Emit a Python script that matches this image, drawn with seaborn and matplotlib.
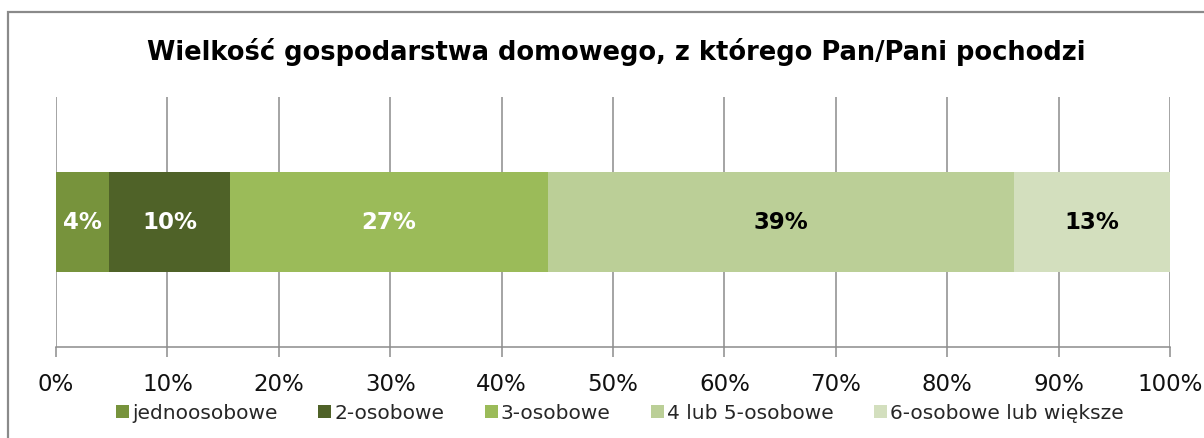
import matplotlib
matplotlib.use("Agg")
import matplotlib.pyplot as plt
from matplotlib.patches import Rectangle
import seaborn as sns
import pandas as pd
import numpy as np

# ---- data ----
categories = ["jednoosobowe", "2-osobowe", "3-osobowe", "4 lub 5-osobowe", "6-osobowe lub większe"]
shares = [4.4, 10.2, 26.6, 39.0, 13.1]          # raw percentages (missing answers excluded)
value_labels = ["4%", "10%", "27%", "39%", "13%"]
colors = ["#77933C", "#4F6228", "#9BBB59", "#BBCF97", "#D3DFBE"]
label_colors = ["white", "white", "white", "black", "black"]
tick_values = [0, 10, 20, 30, 40, 50, 60, 70, 80, 90, 100]
tick_labels = ["0%", "10%", "20%", "30%", "40%", "50%", "60%", "70%", "80%", "90%", "100%"]
title = "Wielkość gospodarstwa domowego, z którego Pan/Pani pochodzi"

sns.set_theme(style="white")
plt.rcParams["font.family"] = ["DejaVu Sans"]

W, H = 1204, 439
fig = plt.figure(figsize=(W / 100, H / 100), dpi=100)
ax = fig.add_axes([56 / W, 1 - 348 / H, (1170 - 56) / W, (348 - 98) / H])

norm = np.array(shares) / np.sum(shares) * 100
cum = np.cumsum(norm)
left = cum - norm

# draw cumulative bars, largest first
for i in range(len(categories) - 1, -1, -1):
    df = pd.DataFrame({"x": [cum[i]], "y": ["r"]})
    sns.barplot(data=df, x="x", y="y", orient="h", color=colors[i], width=0.4,
                saturation=1, ax=ax, label=categories[i], linewidth=0, edgecolor="none")

for i in range(len(categories)):
    ax.text(left[i] + norm[i] / 2, 0, value_labels[i], ha="center", va="center",
            fontsize=16.5, fontweight="bold", color=label_colors[i])

ax.set_xlim(0, 100)
ax.set_ylim(0.5, -0.5)
ax.set_xticks(tick_values)
ax.set_xticklabels(tick_labels, fontsize=16.5, color="#111111")
ax.set_yticks([])
ax.set_xlabel("")
ax.set_ylabel("")
ax.xaxis.grid(True, color="#8C8C8C", linewidth=1.1)
ax.set_axisbelow(True)
for s in ["top", "right", "left"]:
    ax.spines[s].set_visible(False)
ax.spines["bottom"].set_color("#8C8C8C")
ax.spines["bottom"].set_linewidth(1.1)
ax.tick_params(axis="x", bottom=True, length=7, width=1.1, color="#8C8C8C", pad=11)

# legend in original order
handles, labels = ax.get_legend_handles_labels()
if ax.get_legend() is not None:
    ax.get_legend().remove()
order = [labels.index(c) for c in categories]
leg = fig.legend([handles[k] for k in order], [labels[k] for k in order],
                 loc="center", bbox_to_anchor=(0.515, 1 - 414 / H), ncol=5, frameon=False,
                 fontsize=14.5, handlelength=0.65, handleheight=0.65, handletextpad=0.15,
                 columnspacing=2.0, labelcolor="#262626")

fig.text(0.512, 1 - 52 / H, title, ha="center", va="center", fontsize=18.5, fontweight="bold",
         color="black")

# outer frame (left and top edges visible)
fig.add_artist(Rectangle((8 / W, -0.2), 1.5, (439 - 13) / H + 0.2, transform=fig.transFigure,
                         fill=False, edgecolor="#8A8A8A", linewidth=1.6))

fig.savefig("out.png", dpi=100)
